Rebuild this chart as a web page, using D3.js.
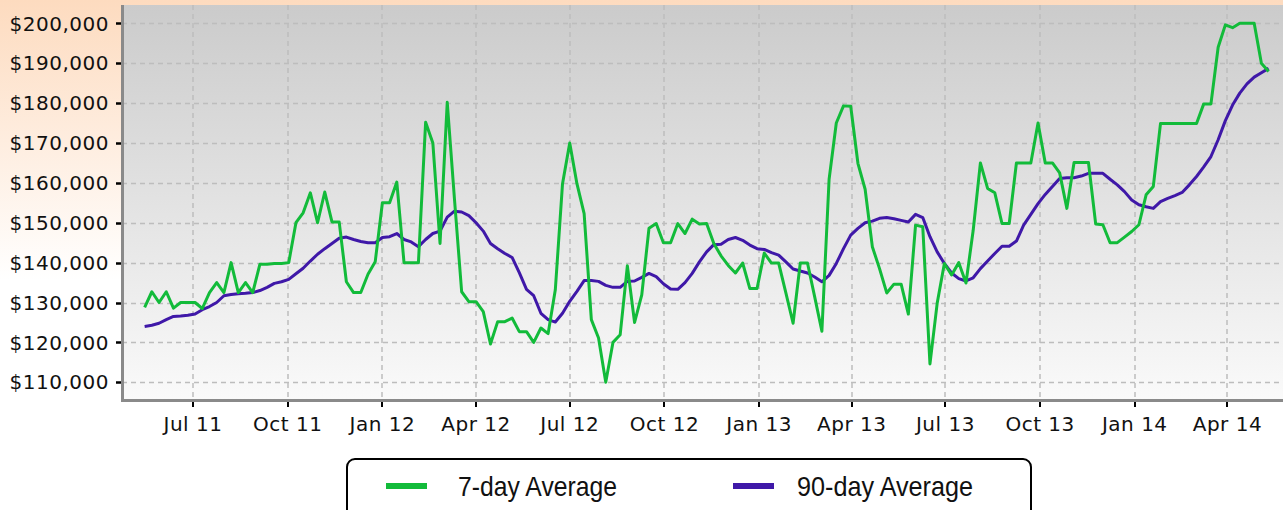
<!DOCTYPE html>
<html lang="en">
<head>
  <meta charset="UTF-8">
  <title>7-day vs 90-day Average</title>
  <script src="https://cdn.jsdelivr.net/npm/d3@7"></script>
</head>

<style>
body { margin: 0; overflow: hidden; }
svg { display: block; }
.tick-label { font: 20px "DejaVu Sans", sans-serif; letter-spacing: 0.5px; fill: #111; }
.legend-label { font: 28px "Liberation Sans Narrow", "Liberation Sans", sans-serif; fill: #111; }
</style>

<body>

  <svg width="1283" height="510"></svg>

  <script>

    // weekly points, first week starts here
    var firstWeek = Date.UTC(2011, 4, 15)

    // 7-day average, one value per week
    var sevenDay = [
      128.8, 132.7, 130, 132.7, 128.6, 130, 130, 130, 128.5, 132.5,
      135, 132.5, 140, 132.5, 135, 132.5, 139.6, 139.6, 139.8, 139.8,
      140, 150, 152.5, 157.5, 150, 157.7, 150.2, 150.2, 135.2, 132.5,
      132.5, 137.1, 140.2, 155, 155, 160.2, 140, 140, 140, 175.2,
      170, 144.8, 180.2, 156, 132.7, 130.2, 130.2, 127.7, 119.6, 125.2,
      125.2, 126.1, 122.7, 122.7, 120, 123.6, 122.2, 133.2, 159.8, 170,
      159.8, 152.3, 125.7, 121.1, 110, 120, 121.9, 139.2, 125, 131.9,
      148.6, 149.8, 145, 145, 149.8, 147.3, 150.9, 149.7, 149.8, 144.8,
      141.7, 139.3, 137.4, 139.9, 133.5, 133.5, 142.4, 139.9, 139.9, 132.4,
      124.8, 139.9, 139.9, 131.4, 122.8, 160.9, 175, 179.3, 179.2, 164.9,
      158.4, 144, 138.5, 132.4, 134.6, 134.6, 127.1, 149.4, 149, 114.6,
      129.8, 139.8, 136.9, 140, 134.9, 148.1, 165, 158.6, 157.5, 149.8,
      149.8, 165, 165, 165, 175, 165, 165, 162.5, 153.6, 165.1,
      165.1, 165.1, 149.7, 149.5, 145, 145, 146.4, 147.8, 149.5, 157,
      159.1, 174.9, 174.9, 174.9, 174.9, 174.9, 174.9, 179.8, 179.8, 194,
      199.6, 198.9, 200, 200, 200, 190, 187.9
    ]

    // 90-day average, same weeks
    var ninetyDay = [
      124, 124.3, 124.8, 125.7, 126.5, 126.6, 126.8, 127.1, 128.2, 129,
      130, 131.7, 132, 132.2, 132.3, 132.5, 133, 133.8, 134.8, 135.2,
      135.8, 137.2, 138.6, 140.4, 142.1, 143.5, 144.8, 146.1, 146.4, 145.8,
      145.3, 145, 145, 146.3, 146.5, 147.3, 145.8, 145.2, 144, 145.8,
      147.3, 147.9, 151.4, 152.9, 152.7, 151.8, 150, 147.9, 144.8, 143.5,
      142.3, 141.3, 137.5, 133.3, 131.7, 127.3, 125.7, 125.1, 127.3, 130.3,
      132.8, 135.5, 135.5, 135.3, 134.3, 133.8, 133.8, 135.3, 135.4, 136.3,
      137.3, 136.5, 134.7, 133.4, 133.3, 135, 137.3, 140.2, 142.7, 144.5,
      144.6, 145.8, 146.3, 145.6, 144.4, 143.5, 143.3, 142.5, 141.9, 140.2,
      138.4, 137.9, 137.4, 136.4, 135.2, 136.8, 139.8, 143.5, 146.9, 148.6,
      150, 150.4, 151.1, 151.3, 151, 150.6, 150.2, 152.1, 151.3, 146.5,
      142.7, 139.8, 137.4, 136, 135.4, 136.2, 138.5, 140.4, 142.3, 144.1,
      144.1, 145.4, 149.4, 152.1, 154.8, 157.1, 159.1, 161.1, 161.3, 161.3,
      161.7, 162.4, 162.4, 162.4, 160.9, 159.5, 157.8, 155.7, 154.5, 154,
      153.6, 155.3, 156.1, 156.8, 157.6, 159.5, 161.6, 164, 166.6, 170.8,
      175.6, 179.5, 182.5, 184.8, 186.5, 187.6, 188.7
    ]

    var seriesNames = ["7-day Average", "90-day Average"]
    var seriesColors = ["#12bb3a", "#3f18a8"]
    var yTicks = [110000, 120000, 130000, 140000, 150000, 160000, 170000, 180000, 190000, 200000]

    var W = 1283, H = 510
    // plot box (note: "top" is taken by window.top, so prefix these)
    var pLeft = 122, pRight = 1283, pTop = 5, pBottom = 400

    var week = 7 * 24 * 3600 * 1000
    function toPoints(values) {
      return values.map(function(v, i) {
        return { date: new Date(firstWeek + i * week), value: v * 1000 }
      })
    }
    var series = [toPoints(sevenDay), toPoints(ninetyDay)]

    var x = d3.scaleUtc()
      .domain([new Date(Date.UTC(2011, 3, 23)), new Date(Date.UTC(2014, 4, 25))])
      .range([pLeft, pRight])

    var y = d3.scaleLinear()
      .domain([105560, 204590])
      .range([pBottom, pTop])

    var svg = d3.select('svg')
    var defs = svg.append('defs')

    var pageGrad = defs.append('linearGradient').attr('id', 'page')
      .attr('x1', 0).attr('y1', 0).attr('x2', 0).attr('y2', 1)
    pageGrad.append('stop').attr('offset', '0%').attr('stop-color', '#fddbbf')
    pageGrad.append('stop').attr('offset', '55%').attr('stop-color', '#ffffff')
    pageGrad.append('stop').attr('offset', '100%').attr('stop-color', '#ffffff')

    var plotGrad = defs.append('linearGradient').attr('id', 'plot')
      .attr('x1', 0).attr('y1', 0).attr('x2', 0).attr('y2', 1)
    plotGrad.append('stop').attr('offset', '0%').attr('stop-color', '#cbcbcb')
    plotGrad.append('stop').attr('offset', '100%').attr('stop-color', '#fafafa')

    svg.append('rect')
      .attr('width', W).attr('height', H)
      .attr('fill', 'url(#page)')

    svg.append('rect')
      .attr('x', pLeft).attr('y', pTop)
      .attr('width', pRight - pLeft).attr('height', pBottom - pTop)
      .attr('fill', 'url(#plot)')

    var xTicks = x.ticks(d3.utcMonth.every(3))
    var fmtX = d3.utcFormat("%b %y")
    var fmtY = d3.format("$,")

    // grid
    var grid = svg.append('g')
      .attr('stroke', '#bdbdbd')
      .attr('stroke-width', 1.5)
      .attr('stroke-dasharray', '5,4')
    grid.selectAll('.hg')
      .data(yTicks)
      .enter()
      .append('line')
      .attr('x1', pLeft).attr('x2', pRight)
      .attr('y1', d => Math.round(y(d)) + 0.5)
      .attr('y2', d => Math.round(y(d)) + 0.5)
    grid.selectAll('.vg')
      .data(xTicks)
      .enter()
      .append('line')
      .attr('x1', d => Math.round(x(d)))
      .attr('x2', d => Math.round(x(d)))
      .attr('y1', pTop).attr('y2', pBottom)

    // lines, purple first so the green sits on top
    var line = d3.line()
      .x(d => x(d.date))
      .y(d => y(d.value))

    ;[1, 0].forEach(function(k) {
      svg.append('path')
        .datum(series[k])
        .attr('fill', 'none')
        .attr('stroke', seriesColors[k])
        .attr('stroke-width', 3)
        .attr('stroke-linejoin', 'round')
        .attr('d', line)
    })

    // axis lines
    svg.append('line')
      .attr('x1', pLeft + 0.5).attr('x2', pLeft + 0.5)
      .attr('y1', pTop).attr('y2', pBottom + 2)
      .attr('stroke', '#8a8a8a').attr('stroke-width', 3)
    svg.append('line')
      .attr('x1', pLeft - 1).attr('x2', pRight)
      .attr('y1', pBottom + 0.5).attr('y2', pBottom + 0.5)
      .attr('stroke', '#8a8a8a').attr('stroke-width', 3)

    // y ticks
    var yAxis = svg.append('g')
    yAxis.selectAll('line')
      .data(yTicks)
      .enter()
      .append('line')
      .attr('x1', pLeft - 6).attr('x2', pLeft - 1)
      .attr('y1', d => Math.round(y(d)) + 0.5)
      .attr('y2', d => Math.round(y(d)) + 0.5)
      .attr('stroke', '#000').attr('stroke-width', 2.5)
    yAxis.selectAll('text')
      .data(yTicks)
      .enter()
      .append('text')
      .attr('class', 'tick-label')
      .attr('x', 109)
      .attr('y', d => y(d))
      .attr('dy', '0.36em')
      .attr('text-anchor', 'end')
      .text(d => fmtY(d))

    // x ticks
    var xAxis = svg.append('g')
    xAxis.selectAll('line')
      .data(xTicks)
      .enter()
      .append('line')
      .attr('x1', d => Math.round(x(d)))
      .attr('x2', d => Math.round(x(d)))
      .attr('y1', pBottom + 2).attr('y2', pBottom + 7)
      .attr('stroke', '#000').attr('stroke-width', 2)
    xAxis.selectAll('text')
      .data(xTicks)
      .enter()
      .append('text')
      .attr('class', 'tick-label')
      .attr('x', d => x(d))
      .attr('y', 431)
      .attr('text-anchor', 'middle')
      .text(d => fmtX(d))

    // legend
    var legend = svg.append('g')
    legend.append('rect')
      .attr('x', 347).attr('y', 459)
      .attr('width', 684).attr('height', 70)
      .attr('rx', 8)
      .attr('fill', '#fff')
      .attr('stroke', '#000')
      .attr('stroke-width', 2)

    var items = legend.selectAll('.item')
      .data(seriesNames)
      .enter()
      .append('g')
      .attr('transform', (d, i) => 'translate(' + [i ? 733 : 386, 486] + ')')
    items.append('rect')
      .attr('x', 0).attr('y', -3)
      .attr('width', 41).attr('height', 6)
      .attr('fill', (d, i) => seriesColors[i])
    items.append('text')
      .attr('class', 'legend-label')
      .attr('x', (d, i) => i ? 64 : 72)
      .attr('y', 10)
      .attr('textLength', (d, i) => i ? 176 : 159)
      .attr('lengthAdjust', 'spacingAndGlyphs')
      .text(d => d)
  </script>

</body>
</html>
